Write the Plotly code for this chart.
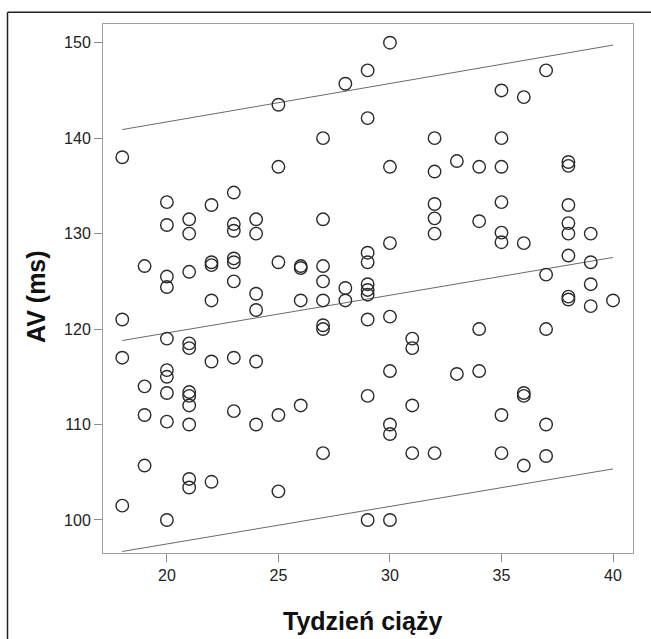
import plotly.graph_objects as go

# Data: week of pregnancy -> AV (ms)
weeks = (
    [18]*4 + [19]*4 + [20]*10 + [21]*11 + [22]*6 + [23]*8 + [24]*6 + [25]*5 +
    [26]*4 + [27]*8 + [28]*3 + [29]*10 + [30]*8 + [31]*4 + [32]*6 + [33]*2 +
    [34]*4 + [35]*8 + [36]*5 + [37]*5 + [38]*8 + [39]*4 + [40]*1
)
av_ms = [
    138.0, 121.0, 117.0, 101.5,
    126.6, 114.0, 111.0, 105.7,
    133.3, 130.9, 125.5, 124.4, 119.0, 115.7, 115.0, 113.3, 110.3, 100.0,
    131.5, 130.0, 126.0, 118.5, 118.0, 113.4, 113.0, 112.0, 110.0, 104.3, 103.4,
    133.0, 127.0, 126.7, 123.0, 116.6, 104.0,
    134.3, 131.0, 130.3, 127.4, 127.0, 125.0, 117.0, 111.4,
    131.5, 130.0, 123.7, 122.0, 116.6, 110.0,
    143.5, 137.0, 127.0, 111.0, 103.0,
    126.6, 126.4, 123.0, 112.0,
    140.0, 131.5, 126.6, 125.0, 123.0, 120.4, 120.0, 107.0,
    145.7, 124.3, 123.0,
    147.1, 142.1, 128.0, 127.0, 124.7, 124.1, 123.6, 121.0, 113.0, 100.0,
    150.0, 137.0, 129.0, 121.3, 115.6, 110.0, 109.0, 100.0,
    119.0, 118.0, 112.0, 107.0,
    140.0, 136.5, 133.1, 131.6, 130.0, 107.0,
    137.6, 115.3,
    137.0, 131.3, 120.0, 115.6,
    145.0, 140.0, 137.0, 133.3, 130.1, 129.1, 111.0, 107.0,
    144.3, 129.0, 113.3, 113.0, 105.7,
    147.1, 125.7, 120.0, 110.0, 106.7,
    137.5, 137.1, 133.0, 131.1, 130.0, 127.7, 123.4, 123.1,
    130.0, 127.0, 124.7, 122.4,
    123.0,
]

# Fit line and interval endpoints
fit_x = [18, 40]
fit_mean = [118.8, 127.5]
fit_upper = [140.9, 149.75]
fit_lower = [96.7, 105.35]

x_ticks = [20, 25, 30, 35, 40]
y_ticks = [100, 110, 120, 130, 140, 150]

W, H = 651, 639
L, R, T, B = 103, 18, 24, 86

fig = go.Figure()
for ys in (fit_upper, fit_mean, fit_lower):
    fig.add_trace(go.Scatter(x=fit_x, y=ys, mode="lines",
                             line=dict(color="#6a6a6a", width=1),
                             hoverinfo="skip", showlegend=False))
fig.add_trace(go.Scatter(x=weeks, y=av_ms, mode="markers",
                         marker=dict(symbol="circle-open", size=12.5,
                                     color="#2a2a2a",
                                     line=dict(color="#2a2a2a", width=1.4)),
                         showlegend=False))

pw = W - L - R
ph = H - T - B

def px2x(px):
    return (px - L) / pw

def px2y(py):
    return (H - B - py) / ph

fig.update_layout(
    width=W, height=H,
    margin=dict(l=L, r=R, t=T, b=B),
    paper_bgcolor="white", plot_bgcolor="white",
    font=dict(family="Arial, Liberation Sans, sans-serif", color="#222222"),
    xaxis=dict(range=[17.136, 40.896], tickvals=x_ticks, showgrid=False,
               zeroline=False, showline=True, mirror=True, linecolor="#a0a0a0",
               linewidth=1, ticks="outside", ticklen=8, tickcolor="#8a8a8a",
               tickfont=dict(size=16, color="#222222")),
    yaxis=dict(range=[96.54, 151.96], tickvals=y_ticks, showgrid=False,
               zeroline=False, showline=True, mirror=True, linecolor="#a0a0a0",
               linewidth=1, ticks="outside", ticklen=8, tickcolor="#8a8a8a",
               tickfont=dict(size=16, color="#222222")),
    annotations=[
        dict(text="<b>Tydzień ciąży</b>", xref="paper", yref="paper",
             x=px2x(362), y=px2y(621), xanchor="center", yanchor="middle",
             showarrow=False, font=dict(size=25, color="#111111")),
        dict(text="<b>AV (ms)</b>", xref="paper", yref="paper",
             x=px2x(36), y=px2y(297), xanchor="center", yanchor="middle",
             textangle=-90, showarrow=False, font=dict(size=25, color="#111111")),
    ],
    shapes=[
        dict(type="line", xref="paper", yref="paper",
             x0=px2x(7.5), x1=px2x(7.5), y0=px2y(12.3), y1=px2y(645),
             line=dict(color="#222222", width=1.5)),
        dict(type="line", xref="paper", yref="paper",
             x0=px2x(7.5), x1=px2x(655), y0=px2y(12.3), y1=px2y(12.3),
             line=dict(color="#222222", width=1.5)),
    ],
)

fig.write_html(
    "out.html",
    config={"displayModeBar": False},
    post_script="document.body.style.margin='0';document.body.style.overflow='hidden';",
)
